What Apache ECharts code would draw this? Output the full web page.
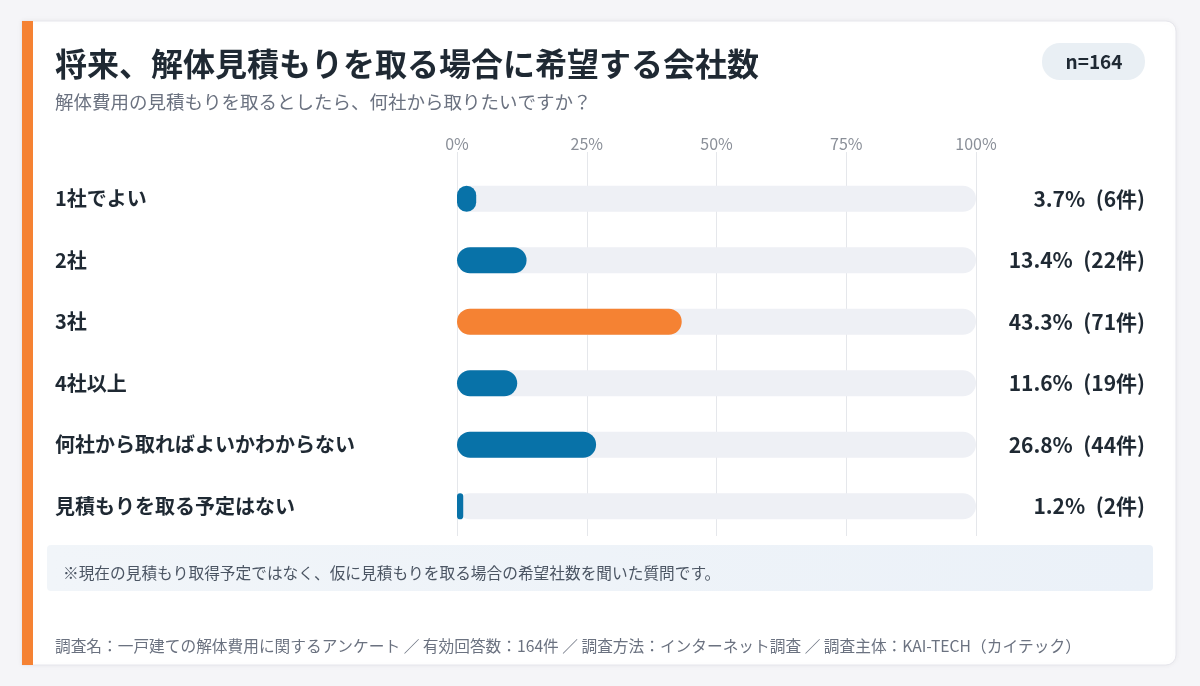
<!DOCTYPE html>
<html>
<head>
<meta charset="utf-8">
<script src="https://cdn.jsdelivr.net/npm/echarts@6/dist/echarts.min.js"></script>
<style>
  html, body { margin: 0; padding: 0; background: #f5f5f8; }
  #chart { width: 1200px; height: 686px; }
</style>
</head>
<body>
<div id="chart"></div>
<script>
// survey data
const categories = ['1社でよい', '2社', '3社', '4社以上', '何社から取ればよいかわからない', '見積もりを取る予定はない']
const percents = [3.7, 13.4, 43.3, 11.6, 26.8, 1.2]
const counts = [6, 22, 71, 19, 44, 2]
const highlight = [false, false, true, false, false, false]
const tickLabels = ['0%', '25%', '50%', '75%', '100%']

const BLUE = '#0872a8'
const ORANGE = '#f58233'
const FONT = '"Noto Sans CJK JP", "Noto Sans", sans-serif'

const chart = echarts.init(document.getElementById('chart'))

chart.setOption({
  backgroundColor: '#f5f5f8',
  textStyle: { fontFamily: FONT },
  animation: false,
  graphic: [
    {
      type: 'rect', z: -10,
      shape: { x: 22, y: 21, width: 1154, height: 644, r: [0, 10, 10, 0] },
      style: { fill: '#ffffff', stroke: '#e6e6ec', lineWidth: 1, shadowBlur: 6, shadowColor: 'rgba(0,0,0,0.05)' }
    },
    {
      type: 'rect', z: -9,
      shape: { x: 22, y: 21, width: 11, height: 644 },
      style: { fill: ORANGE }
    },
    {
      type: 'rect', z: -9,
      shape: { x: 1042, y: 43, width: 103, height: 37, r: 18 },
      style: { fill: '#e9eff4' }
    },
    {
      type: 'text', z: 5,
      style: { x: 1094, y: 62, text: 'n=164', fill: '#1f2933', font: 'bold 19px ' + FONT, align: 'center', verticalAlign: 'middle' }
    },
    {
      type: 'rect', z: -9,
      shape: { x: 47, y: 545, width: 1106, height: 46, r: 4 },
      style: {
        fill: new echarts.graphic.LinearGradient(0, 0, 1, 0, [
          { offset: 0, color: '#f1f5f9' },
          { offset: 1, color: '#ebf1f8' }
        ])
      }
    },
    {
      type: 'text', z: 5,
      style: { x: 63, y: 573, text: '※現在の見積もり取得予定ではなく、仮に見積もりを取る場合の希望社数を聞いた質問です。', fill: '#4b5563', font: '15.7px ' + FONT, verticalAlign: 'middle' }
    },
    {
      type: 'text', z: 5,
      style: { x: 55, y: 646, text: '調査名：一戸建ての解体費用に関するアンケート ／ 有効回答数：164件 ／ 調査方法：インターネット調査 ／ 調査主体：KAI-TECH（カイテック）', fill: '#6b7280', font: '15.7px ' + FONT, verticalAlign: 'middle' }
    }
  ],
  title: {
    text: '将来、解体見積もりを取る場合に希望する会社数',
    subtext: '解体費用の見積もりを取るとしたら、何社から取りたいですか？',
    left: 50,
    top: 43,
    itemGap: 13,
    textStyle: { fontSize: 32, fontWeight: 'bold', color: '#1f2933', fontFamily: FONT },
    subtextStyle: { fontSize: 18.5, color: '#6b7280', fontFamily: FONT }
  },
  grid: [
    { left: 457, right: 224, top: 152, height: 384 },
    { left: 457, right: 224, top: 168, height: 369 }
  ],
  xAxis: [
    {
      gridIndex: 0, type: 'value', position: 'top', min: 0, max: 100, interval: 25,
      axisLine: { show: false }, axisTick: { show: false },
      axisLabel: {
        margin: 0, color: '#8a8f98', fontSize: 16,
        formatter: v => tickLabels[v / 25]
      },
      splitLine: { lineStyle: { color: '#e5e7eb', width: 1 } }
    },
    {
      gridIndex: 1, type: 'value', min: 0, max: 100, show: false
    }
  ],
  yAxis: [
    { gridIndex: 0, type: 'value', show: false, min: 0, max: 1 },
    {
      gridIndex: 1, type: 'category', data: categories, inverse: true,
      axisLine: { show: false }, axisTick: { show: false },
      axisLabel: { align: 'left', margin: 402, fontSize: 20, fontWeight: 'bold', color: '#1f2933' }
    },
    {
      gridIndex: 1, type: 'category', data: categories, inverse: true, position: 'right',
      axisLine: { show: false }, axisTick: { show: false },
      axisLabel: {
        align: 'right', margin: 169, fontSize: 21, fontWeight: 'bold', color: '#1f2933',
        formatter: (v, i) => percents[i].toFixed(1) + '%\u2002(' + counts[i] + '件)'
      }
    }
  ],
  series: [
    { type: 'scatter', xAxisIndex: 0, yAxisIndex: 0, data: [], silent: true },
    {
      type: 'bar', xAxisIndex: 1, yAxisIndex: 1, barWidth: 26, silent: true,
      data: categories.map(() => 100),
      itemStyle: { color: '#eef0f5', borderRadius: 13 }
    },
    {
      type: 'bar', xAxisIndex: 1, yAxisIndex: 1, barWidth: 26, barGap: '-100%', silent: true,
      data: percents.map((p, i) => ({ value: p, itemStyle: { color: highlight[i] ? ORANGE : BLUE } })),
      itemStyle: { borderRadius: 13 }
    }
  ]
})
</script>
</body>
</html>
